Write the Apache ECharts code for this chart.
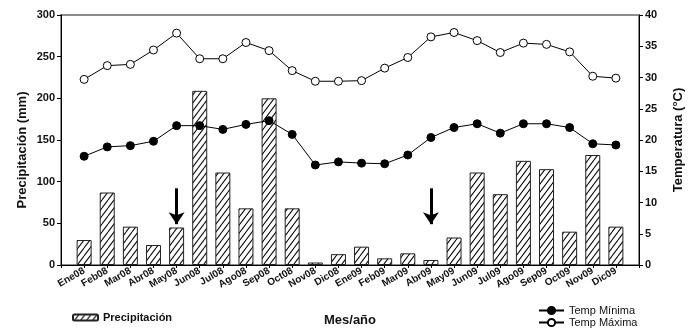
<!DOCTYPE html>
<html>
<head>
<meta charset="utf-8">
<script src="https://cdn.jsdelivr.net/npm/echarts@6/dist/echarts.min.js"></script>
<style>html,body{margin:0;padding:0;background:#fff}#c{width:694px;height:332px}</style>
</head>
<body>
<div id="c"></div>
<script>
const months = ['Ene08','Feb08','Mar08','Abr08','May08','Jun08','Jul08','Ago08','Sep08','Oct08','Nov08','Dic08',
                'Ene09','Feb09','Mar09','Abr09','May09','Jun09','Jul09','Ago09','Sep09','Oct09','Nov09','Dic09'];
const precipitacion = [30,87,46,24,45,209,111,68,200,68,3,13,22,8,14,6,33,111,85,125,115,40,132,46];
const tempMinima = [17.4,18.9,19.1,19.8,22.3,22.3,21.7,22.5,23.1,20.9,16.0,16.5,16.3,16.2,17.6,20.4,22.0,22.6,21.1,22.6,22.6,22.0,19.4,19.2];
const tempMaxima = [29.7,31.9,32.1,34.4,37.1,33.0,33.0,35.6,34.3,31.1,29.4,29.4,29.5,31.5,33.2,36.5,37.2,35.9,34.0,35.5,35.3,34.1,30.2,29.9];
const arrowMonths = ['May08','Abr09'];
const arrowFromTo = [92, 49];

const FONT = 'Liberation Sans, Arial, sans-serif';

// hatch pattern
const W = 6, H = 8;
const pc = document.createElement('canvas');
pc.width = W; pc.height = H;
const g = pc.getContext('2d');
g.fillStyle = '#fff'; g.fillRect(0,0,W,H);
g.strokeStyle = '#111'; g.lineWidth = 1.1;
g.beginPath();
g.moveTo(0,H); g.lineTo(W,0);
g.moveTo(-W,H); g.lineTo(0,0);
g.moveTo(W,H); g.lineTo(2*W,0);
g.stroke();

const cats = [''].concat(months, ['']);
const pad = arr => [null].concat(arr, [null]);

const chart = echarts.init(document.getElementById('c'), null, {renderer:'canvas'});
chart.setOption({
  animation: false,
  grid: {left: 61, right: 55, top: 15, bottom: 67, show: true, borderColor: '#666', borderWidth: 1.5, backgroundColor: 'transparent'},
  legend: [
    {data: ['Precipitación'], left: 67, top: 307, itemWidth: 25, itemHeight: 6, itemGap: 4,
     textStyle: {fontFamily: FONT, fontWeight: 'bold', fontSize: 11, color: '#111'}},
    {data: ['Temp Mínima'], left: 533, top: 300, itemWidth: 25, itemHeight: 9, itemGap: 2,
     textStyle: {fontFamily: FONT, fontSize: 11, color: '#111'}},
    {data: ['Temp Máxima'], left: 533, top: 312, itemWidth: 25, itemHeight: 9, itemGap: 2,
     textStyle: {fontFamily: FONT, fontSize: 11, color: '#111'}}
  ],
  xAxis: {
    type: 'category', data: cats, boundaryGap: false,
    name: 'Mes/año', nameLocation: 'middle', nameGap: 49,
    nameTextStyle: {fontFamily: FONT, fontWeight: 'bold', fontSize: 13, color: '#111'},
    axisLine: {lineStyle: {color: '#000', width: 1}},
    axisTick: {show: true, length: 3, lineStyle: {color: '#000'}, interval: 0},
    axisLabel: {interval: 0, rotate: 30, fontFamily: FONT, fontWeight: 'bold', fontSize: 10, color: '#111', margin: 5},
    splitLine: {show: false}
  },
  yAxis: [
    {type: 'value', min: 0, max: 300, interval: 50, position: 'left',
     axisLine: {show: true, lineStyle: {color: '#000'}},
     axisTick: {show: true, length: 4, lineStyle: {color: '#000'}},
     axisLabel: {fontFamily: FONT, fontWeight: 'bold', fontSize: 11, color: '#111', margin: 6},
     splitLine: {show: false}},
    {type: 'value', min: 0, max: 40, interval: 5, position: 'right',
     axisLine: {show: true, lineStyle: {color: '#000'}},
     axisTick: {show: true, length: 4, lineStyle: {color: '#000'}},
     axisLabel: {fontFamily: FONT, fontWeight: 'bold', fontSize: 11, color: '#111', margin: 6},
     splitLine: {show: false}}
  ],
  graphic: [
    {type: 'text', x: 22, y: 150, rotation: Math.PI/2,
     style: {text: 'Precipitación (mm)', font: 'bold 13px ' + FONT, fill: '#111', textAlign: 'center', textVerticalAlign: 'middle'}},
    {type: 'text', x: 678, y: 140, rotation: Math.PI/2,
     style: {text: 'Temperatura (°C)', font: 'bold 13px ' + FONT, fill: '#111', textAlign: 'center', textVerticalAlign: 'middle'}}
  ],
  series: [
    {name: 'Precipitación', type: 'bar', yAxisIndex: 0, data: pad(precipitacion), barWidth: 15,
     itemStyle: {color: {image: pc, repeat: 'repeat'}, borderColor: '#222', borderWidth: 1},
     markLine: {
       silent: true, symbol: ['none','arrow'], symbolSize: [12, 12],
       lineStyle: {color: '#000', width: 3, type: 'solid'}, label: {show: false},
       data: arrowMonths.map(m => [{coord: [m, arrowFromTo[0]]}, {coord: [m, arrowFromTo[1]]}])
     }},
    {name: 'Temp Mínima', type: 'line', yAxisIndex: 1, data: pad(tempMinima), symbol: 'circle', symbolSize: 8,
     lineStyle: {color: '#000', width: 1}, itemStyle: {color: '#000', borderColor: '#000', borderWidth: 1}, z: 5},
    {name: 'Temp Máxima', type: 'line', yAxisIndex: 1, data: pad(tempMaxima), symbol: 'circle', symbolSize: 8,
     lineStyle: {color: '#000', width: 1}, itemStyle: {color: '#fff', borderColor: '#000', borderWidth: 1}, z: 5}
  ]
});
</script>
</body>
</html>
